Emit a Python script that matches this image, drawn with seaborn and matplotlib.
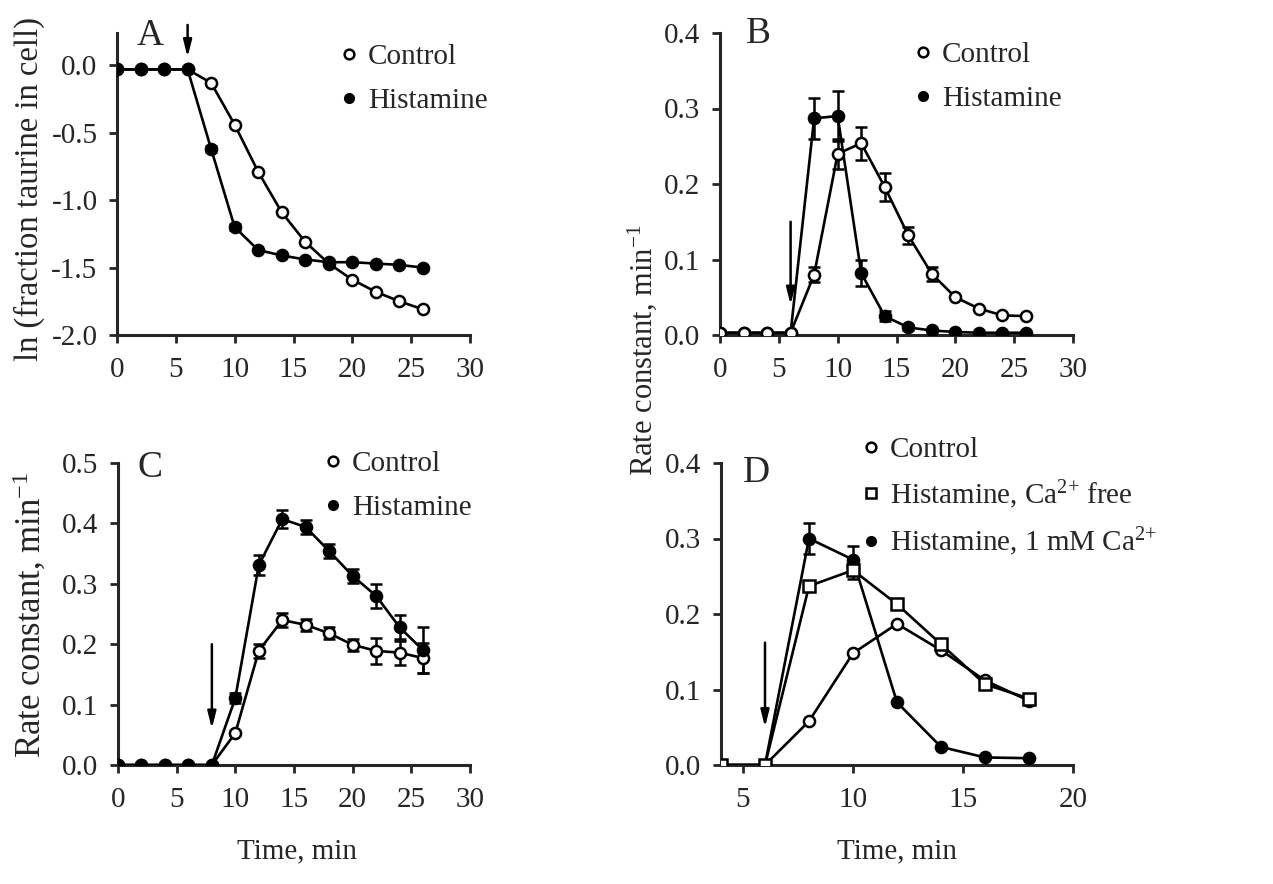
import matplotlib
matplotlib.use("Agg")
import matplotlib.pyplot as plt
from matplotlib.lines import Line2D
import seaborn as sns

# ---- data ----
time_abc = [0, 2, 4, 6, 8, 10, 12, 14, 16, 18, 20, 22, 24, 26]

a_control = [-0.03, -0.03, -0.03, -0.03, -0.13, -0.44, -0.79, -1.09, -1.31, -1.47, -1.59, -1.68, -1.75, -1.81]
a_hist = [-0.03, -0.03, -0.03, -0.03, -0.62, -1.20, -1.37, -1.41, -1.44, -1.46, -1.46, -1.47, -1.48, -1.50]
a_hist_err = [0, 0, 0, 0, 0.02, 0.02, 0, 0, 0, 0, 0, 0, 0, 0]

b_control = [0.003, 0.003, 0.003, 0.003, 0.080, 0.240, 0.254, 0.196, 0.132, 0.081, 0.050, 0.035, 0.026, 0.025]
b_control_err = [0, 0, 0, 0, 0.010, 0.020, 0.022, 0.018, 0.011, 0.009, 0, 0, 0, 0]
b_hist = [0.003, 0.003, 0.003, 0.003, 0.287, 0.290, 0.082, 0.025, 0.010, 0.006, 0.004, 0.003, 0.003, 0.003]
b_hist_err = [0, 0, 0, 0, 0.027, 0.033, 0.017, 0.007, 0.003, 0, 0, 0, 0, 0]

c_control = [0, 0, 0, 0, 0, 0.053, 0.189, 0.240, 0.232, 0.218, 0.199, 0.189, 0.186, 0.177]
c_control_err = [0, 0, 0, 0, 0, 0.004, 0.012, 0.012, 0.010, 0.010, 0.010, 0.022, 0.020, 0.025]
c_hist = [0, 0, 0, 0, 0, 0.111, 0.331, 0.407, 0.394, 0.354, 0.313, 0.280, 0.228, 0.190]
c_hist_err = [0, 0, 0, 0, 0, 0.008, 0.016, 0.015, 0.012, 0.012, 0.012, 0.020, 0.020, 0.038]

time_d = [4, 6, 8, 10, 12, 14, 16, 18]
d_control = [0, 0, 0.058, 0.148, 0.187, 0.152, 0.112, 0.085]
d_ca_free = [0, 0, 0.237, 0.258, 0.213, 0.160, 0.107, 0.088]
d_ca_free_err = [0, 0, 0.005, 0.012, 0.004, 0.004, 0.004, 0.005]
d_ca = [0, 0, 0.300, 0.272, 0.083, 0.024, 0.010, 0.009]
d_ca_err = [0, 0, 0.020, 0.018, 0, 0, 0, 0]

sns.set_style('ticks')
plt.rcParams['font.family'] = ['Liberation Serif', 'DejaVu Serif']
plt.rcParams['mathtext.fontset'] = 'custom'
plt.rcParams['mathtext.rm'] = 'Liberation Serif'
plt.rcParams['mathtext.default'] = 'regular'
plt.rcParams['axes.unicode_minus'] = False

FS = 21
W, H = 1273, 884

fig = plt.figure(figsize=(12.73, 8.84), dpi=100)
ax_a = fig.add_axes([117 / W, 1 - 335 / H, 353 / W, 302 / H])
ax_b = fig.add_axes([720 / W, 1 - 335 / H, 353 / W, 302 / H])
ax_c = fig.add_axes([118 / W, 1 - 765 / H, 352 / W, 302 / H])
ax_d = fig.add_axes([721 / W, 1 - 765 / H, 352 / W, 302 / H])

MS = 8
open_kw = dict(marker='o', markersize=MS, markerfacecolor='white', markeredgecolor='black', markeredgewidth=1.8)
fill_kw = dict(marker='o', markersize=MS, markerfacecolor='black', markeredgecolor='black', markeredgewidth=1.8)
square_kw = dict(marker='s', markersize=MS, markerfacecolor='white', markeredgecolor='black', markeredgewidth=1.8)


def draw(ax, x, y, err, kw):
    if err is not None:
        ax.errorbar(x, y, yerr=err, fmt='none', ecolor='black', elinewidth=1.8, capsize=4, capthick=1.8, zorder=2)
    sns.lineplot(x=x, y=y, ax=ax, color='black', linewidth=1.9, zorder=3, **kw)


draw(ax_a, time_abc, a_control, None, open_kw)
draw(ax_a, time_abc, a_hist, a_hist_err, fill_kw)

draw(ax_b, time_abc, b_hist, b_hist_err, fill_kw)
draw(ax_b, time_abc, b_control, b_control_err, open_kw)

draw(ax_c, time_abc, c_control, c_control_err, open_kw)
draw(ax_c, time_abc, c_hist, c_hist_err, fill_kw)

draw(ax_d, time_d, d_control, None, open_kw)
draw(ax_d, time_d, d_ca, d_ca_err, fill_kw)
draw(ax_d, time_d, d_ca_free, d_ca_free_err, square_kw)

# axes styling
for ax in (ax_a, ax_b, ax_c, ax_d):
    sns.despine(ax=ax)
    for s in ('left', 'bottom'):
        ax.spines[s].set_linewidth(2.2)
    ax.tick_params(axis='both', direction='out', width=2, length=6, labelsize=FS)
    ax.tick_params(axis='x', pad=10)
    ax.tick_params(axis='y', pad=8)
    ax.set_xlabel('')
    ax.set_ylabel('')

for ax in (ax_a, ax_b, ax_c):
    ax.set_xlim(0, 30)
    ax.set_xticks([0, 5, 10, 15, 20, 25, 30])

ax_a.set_ylim(-2.0, 0.24)
ax_a.set_yticks([0.0, -0.5, -1.0, -1.5, -2.0])
ax_a.set_yticklabels(['0.0', '-0.5', '-1.0', '-1.5', '-2.0'])
ax_b.set_ylim(0, 0.4)
ax_b.set_yticks([0.0, 0.1, 0.2, 0.3, 0.4])
ax_b.set_yticklabels(['0.0', '0.1', '0.2', '0.3', '0.4'])
ax_c.set_ylim(0, 0.5)
ax_c.set_yticks([0.0, 0.1, 0.2, 0.3, 0.4, 0.5])
ax_c.set_yticklabels(['0.0', '0.1', '0.2', '0.3', '0.4', '0.5'])
ax_d.set_xlim(4, 20)
ax_d.set_xticks([5, 10, 15, 20])
ax_d.set_ylim(0, 0.4)
ax_d.set_yticks([0.0, 0.1, 0.2, 0.3, 0.4])
ax_d.set_yticklabels(['0.0', '0.1', '0.2', '0.3', '0.4'])

# stimulus arrows
arrow_kw = dict(arrowstyle='-|>,head_length=1.0,head_width=0.25', color='black', lw=1.8, shrinkA=0, shrinkB=0)
ax_a.annotate('', xy=(6, 0.06), xytext=(6, 0.30), arrowprops=arrow_kw, annotation_clip=False)
ax_b.annotate('', xy=(6, 0.04), xytext=(6, 0.15), arrowprops=arrow_kw)
ax_c.annotate('', xy=(8, 0.06), xytext=(8, 0.20), arrowprops=arrow_kw)
ax_d.annotate('', xy=(6, 0.05), xytext=(6, 0.162), arrowprops=arrow_kw)

# panel letters
fig.text(150 / W, 1 - 36 / H, 'A', fontsize=27, ha='center', va='center')
fig.text(758 / W, 1 - 34 / H, 'B', fontsize=27, ha='center', va='center')
fig.text(150 / W, 1 - 468 / H, 'C', fontsize=27, ha='center', va='center')
fig.text(756 / W, 1 - 473 / H, 'D', fontsize=27, ha='center', va='center')

# legends
h_open = Line2D([], [], linestyle='none', marker='o', markersize=7, markerfacecolor='white', markeredgecolor='black', markeredgewidth=1.8)
h_fill = Line2D([], [], linestyle='none', marker='o', markersize=7, markerfacecolor='black', markeredgecolor='black')
h_sq = Line2D([], [], linestyle='none', marker='s', markersize=7, markerfacecolor='white', markeredgecolor='black', markeredgewidth=1.8)

leg_kw = dict(frameon=False, fontsize=FS, handlelength=0.6, handletextpad=0.35, labelspacing=0.6,
              borderpad=0, borderaxespad=0, loc='upper left', bbox_transform=fig.transFigure)
ax_a.legend([h_open, h_fill], ['Control', 'Histamine'], bbox_to_anchor=(340 / W, 1 - 44 / H), **leg_kw)
ax_b.legend([h_open, h_fill], ['Control', 'Histamine'], bbox_to_anchor=(914 / W, 1 - 42 / H), **leg_kw)
ax_c.legend([h_open, h_fill], ['Control', 'Histamine'], bbox_to_anchor=(324 / W, 1 - 451 / H), **leg_kw)
ax_d.legend([h_open, h_sq, h_fill],
            ['Control', 'Histamine, Ca$^{2{+}}$ free', 'Histamine, 1 mM Ca$^{2{+}}$'],
            bbox_to_anchor=(862 / W, 1 - 437 / H), **dict(leg_kw, labelspacing=0.5))

# axis labels
fig.text(29 / W, 1 - 189 / H, 'ln (fraction taurine in cell)', fontsize=23.5, rotation=90, ha='center', va='center')
fig.text(642 / W, 1 - 350 / H, 'Rate constant, min$^{-1}$', fontsize=22, rotation=90, ha='center', va='center')
fig.text(30 / W, 1 - 615 / H, 'Rate constant, min$^{-1}$', fontsize=25, rotation=90, ha='center', va='center')
fig.text(297 / W, 1 - 851 / H, 'Time, min', fontsize=FS, ha='center', va='center')
fig.text(897 / W, 1 - 851 / H, 'Time, min', fontsize=FS, ha='center', va='center')

fig.savefig('out.png', dpi=100)
